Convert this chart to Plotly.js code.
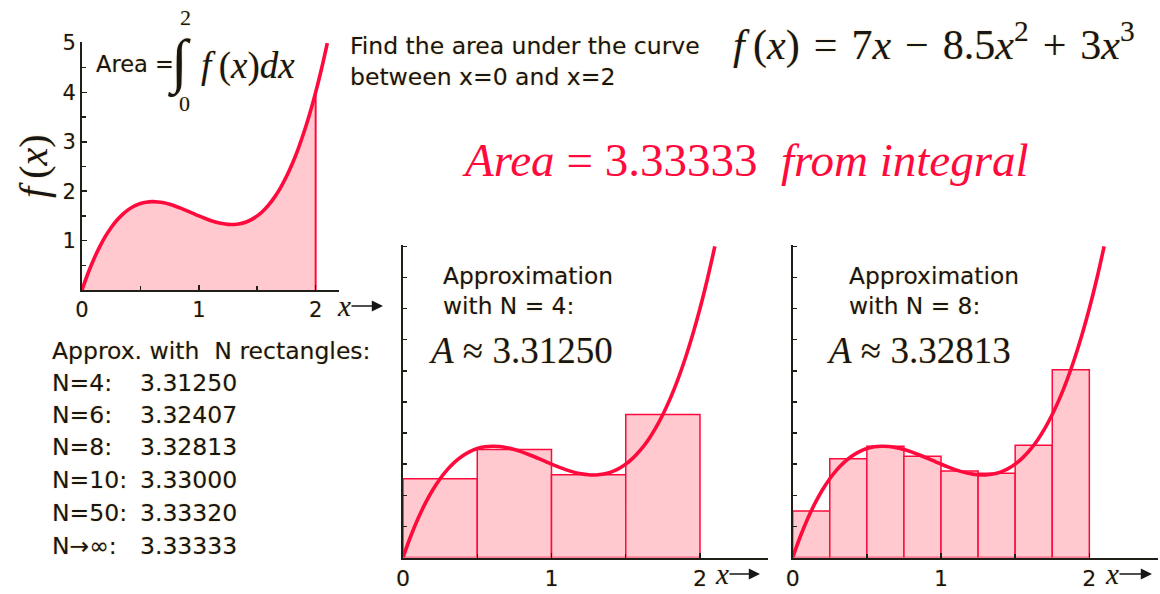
<!DOCTYPE html>
<html>
<head>
<meta charset="utf-8">
<script src="https://cdn.plot.ly/plotly-3.0.1.min.js"></script>
<style>html,body{margin:0;padding:0;background:#fff;overflow:hidden}</style>
</head>
<body>
<div id="chart" style="width:1160px;height:594px"></div>
<script>
// f(x) = 7x - 8.5x^2 + 3x^3, sampled every 0.05
const curveX = [0,0.05,0.1,0.15,0.2,0.25,0.3,0.35,0.4,0.45,0.5,0.55,0.6,0.65,0.7,0.75,0.8,0.85,0.9,0.95,
                1,1.05,1.1,1.15,1.2,1.25,1.3,1.35,1.4,1.45,1.5,1.55,1.6,1.65,1.7,1.75,1.8,1.85,1.9,1.95,2,2.05,2.1];
const curveY = [0,0.3291,0.618,0.8689,1.084,1.2656,1.416,1.5374,1.632,1.7021,1.75,1.7779,1.788,1.7826,1.764,
                1.7344,1.696,1.6511,1.602,1.5509,1.5,1.4516,1.408,1.3714,1.344,1.3281,1.326,1.3399,1.372,1.4246,
                1.5,1.6004,1.728,1.8851,2.074,2.2969,2.556,2.8536,3.192,3.5734,4,4.4741,4.998];

// midpoint rectangles, N = 4 and N = 8
const rect4X = [0.25,0.75,1.25,1.75];
const rect4Y = [1.265625,1.734375,1.328125,2.296875];
const rect8X = [0.125,0.375,0.625,0.875,1.125,1.375,1.625,1.875];
const rect8Y = [0.748047,1.587891,1.787109,1.626953,1.388672,1.353516,1.802734,3.017578];

// table of approximations
const tableN = ['4','6','8','10','50','\u2192\u221e'];
const tableArea = [3.31250,3.32407,3.32813,3.33000,3.33320,3.33333];
const exactArea = 3.33333;
const lowerA = 0, upperA = 2;

// axis ticks
const xLabelVals = [0, 1, 2];
const xMinorVals = [0.5, 1.5];
const yLabelVals = [1, 2, 3, 4, 5];
const yMinorVals = [0.5, 1.5, 2.5, 3.5, 4.5];

const W = 1160, H = 594;
const px = x => x / W;
const py = y => 1 - y / H;

const RED = '#ff0a3c';
const PINK = '#ffc9cf';
const AXIS = '#1f1f17';
const INK = '#161616';
const SANS = 'DejaVu Sans';
const SERIF = 'Liberation Serif';
const HALO = '0 0 2px rgba(236,196,110,0.75)';

const shadeX = curveX.filter(x => x <= upperA);
const shadeY = curveY.slice(0, shadeX.length);

const traces = [
  {x: shadeX, y: shadeY, type: 'scatter', mode: 'lines', fill: 'tozeroy', fillcolor: PINK,
   line: {width: 0, shape: 'spline'}, xaxis: 'x', yaxis: 'y', hoverinfo: 'skip'},
  {x: [upperA, upperA], y: [0, shadeY[shadeY.length - 1]], type: 'scatter', mode: 'lines',
   line: {color: RED, width: 2}, xaxis: 'x', yaxis: 'y', hoverinfo: 'skip'},
  {x: curveX, y: curveY, type: 'scatter', mode: 'lines', line: {color: RED, width: 3.6, shape: 'spline'},
   xaxis: 'x', yaxis: 'y', hoverinfo: 'skip'},

  {x: rect4X, y: rect4Y, type: 'bar', width: 0.5, marker: {color: PINK, line: {color: RED, width: 1.5}},
   xaxis: 'x2', yaxis: 'y2', hoverinfo: 'skip'},
  {x: curveX, y: curveY, type: 'scatter', mode: 'lines', line: {color: RED, width: 3.6, shape: 'spline'},
   xaxis: 'x2', yaxis: 'y2', hoverinfo: 'skip'},

  {x: rect8X, y: rect8Y, type: 'bar', width: 0.25, marker: {color: PINK, line: {color: RED, width: 1.5}},
   xaxis: 'x3', yaxis: 'y3', hoverinfo: 'skip'},
  {x: curveX, y: curveY, type: 'scatter', mode: 'lines', line: {color: RED, width: 3.6, shape: 'spline'},
   xaxis: 'x3', yaxis: 'y3', hoverinfo: 'skip'}
];

const baseAxis = {
  showline: true, linecolor: AXIS, linewidth: 2, showgrid: false, zeroline: false,
  ticks: 'inside', tickcolor: AXIS, tickwidth: 1.5, ticklen: 5, fixedrange: true,
  tickfont: {family: SANS, size: 21, color: INK, shadow: HALO}
};
const minorTicks = vals => ({minor: {tickmode: 'array', tickvals: vals, ticks: 'inside', ticklen: 4,
                                     tickwidth: 1.5, tickcolor: AXIS, showgrid: false}});
const xTicks = Object.assign({tickmode: 'array', tickvals: xLabelVals, ticktext: xLabelVals.map(String)},
                             minorTicks(xMinorVals));
const lowerFont = {tickfont: {family: SANS, size: 22, color: INK, shadow: HALO}};

const layout = {
  width: W, height: H, margin: {l: 0, r: 0, t: 0, b: 0},
  paper_bgcolor: '#fff', plot_bgcolor: 'rgba(0,0,0,0)', showlegend: false,
  xaxis: Object.assign({}, baseAxis, xTicks, {domain: [px(82), px(339)], range: [0, 2.2], anchor: 'y'}),
  yaxis: Object.assign({}, baseAxis, minorTicks(yMinorVals), {domain: [py(290), py(42)], range: [0, 5.02],
    anchor: 'x', tickmode: 'array', tickvals: yLabelVals, ticktext: yLabelVals.map(String)}),
  xaxis2: Object.assign({}, baseAxis, xTicks, lowerFont, {domain: [px(403), px(768)], range: [0, 2.458], anchor: 'y2'}),
  yaxis2: Object.assign({}, baseAxis, {domain: [py(557.5), py(245)], range: [0, 5.02], anchor: 'x2',
    dtick: 0.5, tick0: 0, showticklabels: false, ticklen: 4}),
  xaxis3: Object.assign({}, baseAxis, xTicks, lowerFont, {domain: [px(792.7), px(1158)], range: [0, 2.463], anchor: 'y3'}),
  yaxis3: Object.assign({}, baseAxis, {domain: [py(557.5), py(245)], range: [0, 5.02], anchor: 'x3',
    dtick: 0.5, tick0: 0, showticklabels: false, ticklen: 4}),
  annotations: []
};

function label(text, x, y, family, size, extra) {
  layout.annotations.push(Object.assign({
    text: text, x: px(x), y: py(y), xref: 'paper', yref: 'paper', showarrow: false,
    xanchor: 'left', yanchor: 'middle', font: {family: family, size: size, color: INK, shadow: HALO}
  }, extra || {}));
}
// italic x with an arrow running from it to the right
function axisArrow(xCenter, xHead, y) {
  layout.annotations.push({
    text: '<i>x</i>', x: px(xHead), y: py(y), xref: 'paper', yref: 'paper', showarrow: true,
    ax: xCenter - xHead, ay: 0, arrowhead: 2, arrowsize: 1.4, arrowwidth: 1.6, arrowcolor: INK,
    standoff: 0, borderpad: 0, font: {family: SERIF, size: 29, color: INK, shadow: HALO}
  });
}
const sp = '\u2009', hs = '\u200a';

// top-left panel: integral notation, axis title, x label
label('Area =', 94, 64, SANS, 22.5);
label('\u222b', 179, 63, SERIF, 60, {xanchor: 'center'});
label('2', 185, 18, SERIF, 22, {xanchor: 'center'});
label('0', 184, 104, SERIF, 22, {xanchor: 'center'});
label('<i>f</i>' + sp + '(<i>x</i>)<i>dx</i>', 199, 66, SERIF, 37);
label('<i>f</i>' + sp + '(<i>x</i>)', 34, 166, SERIF, 40, {xanchor: 'center', textangle: -90});
axisArrow(344, 383, 306);

// heading and formula
label('Find the area under the curve<br>between x=' + lowerA + ' and x=' + upperA, 348, 61, SANS, 23.5, {align: 'left'});
label('<i>f</i>' + sp + '(<i>x</i>) ' + hs + '=' + hs + ' 7<i>x</i> ' + hs + '\u2212' + hs + ' 8.5<i>x</i><sup>2</sup> ' +
      hs + '+' + hs + ' 3<i>x</i><sup>3</sup>', 731, 42, SERIF, 42);
label('<i>Area</i> = ' + exactArea.toFixed(5) + '\u00a0\u00a0<i>from integral</i>', 460, 160, SERIF, 47,
      {font: {family: SERIF, size: 47, color: RED}});

// approximation panels
function panelText(n, areaVal, xLeft, xA, xCenter, xHead) {
  label('Approximation<br>with N = ' + n + ':', xLeft, 290, SANS, 23.3, {align: 'left'});
  label('<i>A</i> \u2248 ' + areaVal.toFixed(5), xA, 350, SERIF, 37);
  axisArrow(xCenter, xHead, 574);
}
panelText(4, tableArea[0], 441, 426, 722, 760);
panelText(8, tableArea[2], 847, 824, 1112, 1152);

// table of rectangle approximations
label('Approx. with\u00a0\u00a0N rectangles:', 50, 351, SANS, 23.5);
const rowY = [383, 415, 447, 480, 513, 546];
tableN.forEach((n, i) => {
  label('N' + (n.startsWith('\u2192') ? n : '=' + n) + ':', 50, rowY[i], SANS, 23.5);
  label(tableArea[i].toFixed(5), 138, rowY[i], SANS, 23.5);
});

Plotly.newPlot('chart', traces, layout, {staticPlot: true, displayModeBar: false});
</script>
</body>
</html>
